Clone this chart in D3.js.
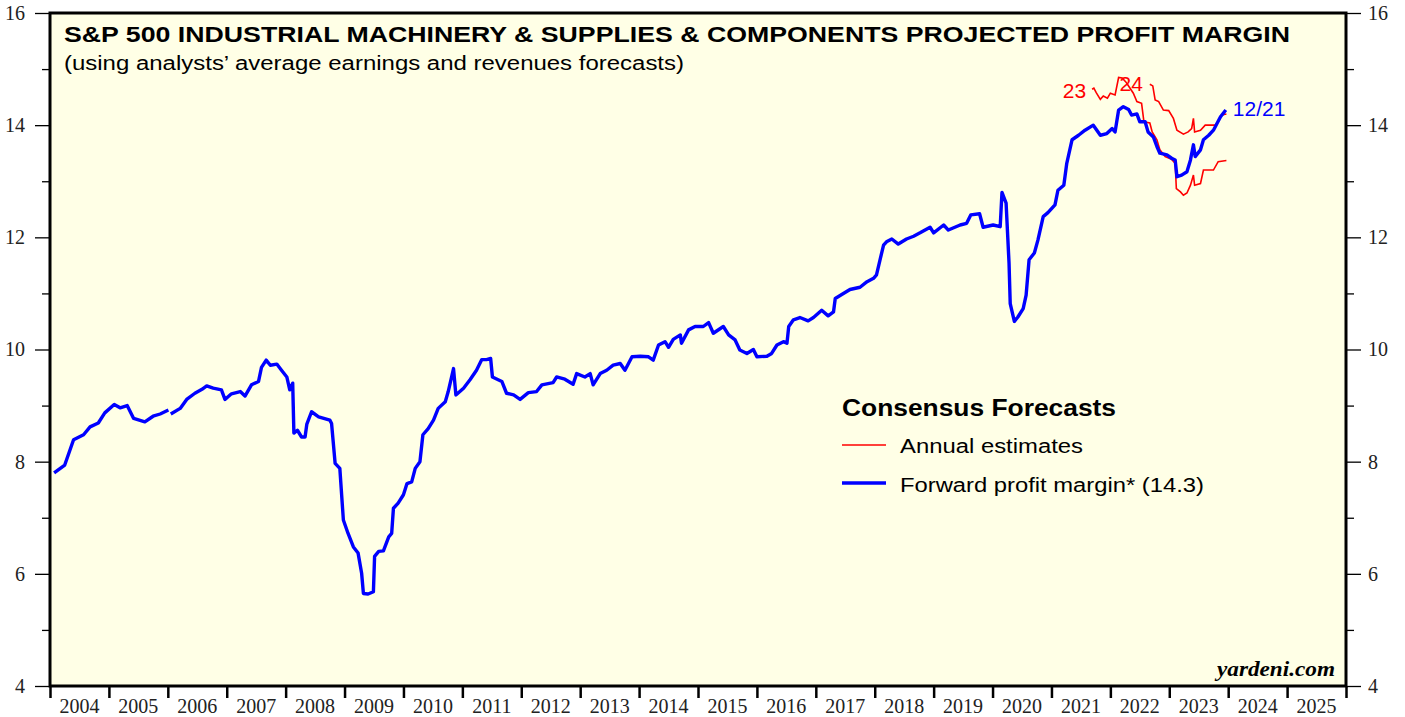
<!DOCTYPE html>
<html>
<head>
<meta charset="utf-8">
<script src="https://cdn.jsdelivr.net/npm/d3@7"></script>
<style>
  body { margin: 0; background: #fff; }
  svg { display: block; }
  .axis path { display: none; }
  .axis line { stroke: #000; stroke-width: 1.3; }
  .xaxis line { stroke-width: 2.5; }
  .axis text { font-family: "Liberation Serif", "Times New Roman", serif; font-size: 20px; fill: #222; }
  .sans { font-family: "Liberation Sans", Arial, sans-serif; }
</style>
</head>
<body>
<div id="chart"></div>
<script>
// forward profit margin (weekly-ish), year as decimal
var fwdYears = [2004.07,2004.25,2004.40,2004.57,2004.68,2004.82,2004.93,2005.09,2005.19,2005.31,2005.42,2005.61,2005.75,2005.87,2006.01,
  2006.03,
  2006.05,2006.21,2006.32,2006.46,2006.58,2006.66,2006.77,2006.91,2006.97,2007.08,2007.23,2007.31,2007.42,2007.54,2007.59,2007.67,2007.74,2007.85,2007.93,
  2008.02,2008.07,2008.12,2008.14,2008.20,2008.27,2008.33,2008.36,2008.44,2008.56,2008.75,2008.78,2008.84,2008.92,2008.98,
  2009.06,2009.15,2009.23,2009.29,2009.32,2009.40,2009.49,2009.51,2009.58,2009.66,2009.75,2009.80,2009.83,2009.91,
  2010.00,2010.06,2010.14,2010.20,2010.28,2010.33,2010.42,2010.51,2010.59,2010.71,2010.76,2010.85,2010.89,
  2011.02,2011.13,2011.24,2011.33,2011.41,2011.48,2011.51,2011.67,2011.75,2011.87,2011.98,
  2012.12,2012.26,2012.35,2012.54,2012.60,2012.74,2012.88,2012.94,
  2013.08,2013.17,2013.22,2013.34,2013.45,2013.56,2013.68,2013.76,2013.88,
  2014.02,2014.16,2014.24,2014.33,2014.44,2014.50,2014.58,2014.70,2014.72,2014.84,2014.95,
  2015.09,2015.18,2015.26,2015.43,2015.52,2015.63,2015.71,2015.83,2015.94,
  2016.00,2016.17,2016.25,2016.34,2016.45,2016.51,2016.54,2016.62,2016.73,2016.87,2016.96,
  2017.10,2017.21,2017.30,2017.33,2017.44,2017.58,2017.75,2017.87,2017.98,
  2018.03,2018.09,2018.15,2018.20,2018.29,2018.40,2018.54,2018.66,2018.77,2018.94,
  2019.00,2019.17,2019.25,2019.45,2019.56,2019.63,2019.78,2019.84,
  2020.01,2020.13,2020.16,2020.23,2020.28,2020.30,2020.37,2020.43,2020.52,2020.57,2020.62,2020.71,2020.77,2020.86,2020.94,
  2021.06,2021.11,2021.21,2021.26,2021.35,2021.46,2021.57,2021.71,2021.83,2021.94,
  2022.03,2022.08,2022.14,2022.22,2022.31,2022.36,2022.45,2022.50,2022.59,2022.64,2022.73,2022.79,2022.84,2022.96,
  2023.04,2023.10,2023.13,2023.21,2023.30,2023.36,2023.41,2023.44,2023.53,2023.58,2023.67,2023.75,2023.81,2023.87,2023.96];
var fwdValues = [7.80,7.94,8.39,8.48,8.62,8.69,8.87,9.02,8.96,9.00,8.77,8.71,8.81,8.85,8.92,
  null,
  8.85,8.95,9.11,9.22,9.29,9.35,9.31,9.28,9.11,9.21,9.25,9.17,9.37,9.43,9.68,9.81,9.72,9.74,9.63,
  9.51,9.28,9.40,8.51,8.56,8.44,8.44,8.67,8.89,8.80,8.74,8.68,7.97,7.88,6.96,
  6.72,6.48,6.37,6.01,5.65,5.64,5.68,6.31,6.40,6.41,6.66,6.72,7.17,7.26,
  7.41,7.61,7.64,7.88,8.00,8.48,8.59,8.74,8.95,9.07,9.25,9.66,9.19,
  9.31,9.46,9.63,9.82,9.82,9.84,9.51,9.43,9.22,9.19,9.11,
  9.23,9.25,9.37,9.41,9.51,9.47,9.38,9.57,
  9.51,9.57,9.37,9.57,9.63,9.72,9.75,9.63,9.87,
  9.88,9.87,9.81,10.08,10.14,10.04,10.18,10.26,10.11,10.35,10.41,
  10.41,10.48,10.29,10.41,10.26,10.17,9.99,9.93,10.00,
  9.87,9.88,9.93,10.08,10.14,10.11,10.41,10.53,10.57,10.51,10.57,
  10.70,10.60,10.67,10.91,10.98,11.07,11.11,11.21,11.27,
  11.33,11.60,11.86,11.92,11.97,11.88,11.97,12.02,12.08,12.18,
  12.08,12.22,12.13,12.22,12.25,12.40,12.42,12.18,
  12.22,12.19,12.80,12.61,11.54,10.82,10.50,10.58,10.73,10.97,11.60,11.72,11.95,12.37,12.44,
  12.58,12.84,12.93,13.32,13.74,13.82,13.91,14.00,13.82,13.85,
  13.94,13.88,14.27,14.33,14.28,14.18,14.20,14.06,14.06,13.88,13.79,13.62,13.50,13.47,
  13.41,13.38,13.08,13.11,13.17,13.38,13.65,13.44,13.56,13.74,13.82,13.91,14.03,14.15,14.27];

// annual estimates
var est23Years = [2021.69,2021.72,2021.76,2021.83,2021.88,2021.95,2022.00,2022.08,2022.14,2022.20,2022.27,2022.39,2022.45,2022.53,2022.57,2022.67,2022.71,2022.79,2022.84,2022.93,
  2023.04,2023.10,2023.12,2023.19,2023.24,2023.30,2023.36,2023.41,2023.43,2023.53,2023.58,2023.75,2023.83,2023.97];
var est23Values = [14.64,14.66,14.58,14.46,14.52,14.48,14.57,14.54,14.85,14.84,14.76,14.57,14.42,14.39,14.06,14.04,13.88,13.74,13.56,13.44,
  13.39,13.32,12.87,12.81,12.75,12.79,12.93,13.11,12.93,12.96,13.20,13.20,13.35,13.37];
var est24Years = [2022.67,2022.72,2022.76,2022.82,2022.90,2022.99,2023.07,2023.13,2023.24,2023.32,2023.38,2023.41,2023.43,2023.53,2023.61,2023.78,2023.83,2023.89,2023.97];
var est24Values = [14.73,14.70,14.45,14.42,14.27,14.26,14.12,13.91,13.84,13.88,13.94,14.12,13.88,13.91,14.00,14.00,14.06,14.18,14.20];

var yearTicks = d3.range(2004, 2027);
var yearLabels = d3.range(2004, 2026);
var yMajor = [4, 6, 8, 10, 12, 14, 16];
var yMinor = [5, 7, 9, 11, 13, 15];

var margin = {top: 13, right: 59, bottom: 31, left: 50},
    width = 1405 - margin.left - margin.right,
    height = 717 - margin.top - margin.bottom;

var svg = d3.select("#chart")
  .append("svg")
  .attr("width", 1405)
  .attr("height", 717)
  .append("g")
  .attr("transform", "translate(" + margin.left + "," + margin.top + ")");

var x = d3.scaleLinear().domain([2004, 2026]).range([0, width]);
var y = d3.scaleLinear().domain([4, 16]).range([height, 0]);

// background
svg.append("rect")
  .attr("width", width).attr("height", height)
  .attr("fill", "#ffffe6");

// y axes, major + minor ticks
svg.append("g").attr("class", "axis")
  .call(d3.axisLeft(y).tickValues(yMajor).tickSize(15).tickPadding(10).tickFormat(d3.format("d")));
svg.append("g").attr("class", "axis")
  .call(d3.axisLeft(y).tickValues(yMinor).tickSize(8).tickFormat(""));
svg.append("g").attr("class", "axis")
  .attr("transform", "translate(" + width + ",0)")
  .call(d3.axisRight(y).tickValues(yMajor).tickSize(15).tickPadding(7).tickFormat(d3.format("d")));
svg.append("g").attr("class", "axis")
  .attr("transform", "translate(" + width + ",0)")
  .call(d3.axisRight(y).tickValues(yMinor).tickSize(8).tickFormat(""));

// x axis: ticks on year boundaries, labels mid-year
svg.append("g").attr("class", "axis xaxis")
  .attr("transform", "translate(0," + height + ")")
  .call(d3.axisBottom(x).tickValues(yearTicks).tickSize(12).tickFormat(""));
svg.append("g").attr("class", "axis")
  .selectAll("text")
  .data(yearLabels)
  .enter().append("text")
    .attr("x", function(d) { return x(d + 0.5); })
    .attr("y", height + 27)
    .attr("text-anchor", "middle")
    .text(function(d) { return d; });

var line = d3.line()
  .defined(function(d) { return d[1] != null; })
  .x(function(d) { return x(d[0]); })
  .y(function(d) { return y(d[1]); });

var fwd = d3.zip(fwdYears, fwdValues);
var e23 = d3.zip(est23Years, est23Values);
var e24 = d3.zip(est24Years, est24Values);

svg.append("path").datum(e23)
  .attr("d", line).attr("fill", "none")
  .attr("stroke", "#ff0000").attr("stroke-width", 1.6);
svg.append("path").datum(e24)
  .attr("d", line).attr("fill", "none")
  .attr("stroke", "#ff0000").attr("stroke-width", 1.6);
svg.append("path").datum(fwd)
  .attr("d", line).attr("fill", "none")
  .attr("stroke", "#0000ff").attr("stroke-width", 3.4)
  .attr("stroke-linejoin", "round");

// series labels
svg.append("text").attr("class", "sans")
  .attr("x", x(est23Years[0]) - 6).attr("y", y(est23Values[0]) + 9)
  .attr("text-anchor", "end")
  .style("font-size", "21px")
  .attr("fill", "#ff0000").text("23");
svg.append("text").attr("class", "sans")
  .attr("x", x(est24Years[0]) - 7).attr("y", y(est24Values[0]) + 7)
  .attr("text-anchor", "end")
  .style("font-size", "21px")
  .attr("fill", "#ff0000").text("24");
svg.append("text").attr("class", "sans")
  .attr("x", x(fwdYears[fwdYears.length - 1]) + 7).attr("y", y(fwdValues[fwdValues.length - 1]) + 6)
  .style("font-size", "21px")
  .attr("fill", "#0000ff").text("12/21");

// frame
svg.append("rect")
  .attr("width", width).attr("height", height)
  .attr("fill", "none").attr("stroke", "#000").attr("stroke-width", 3);

// titles
svg.append("text").attr("class", "sans")
  .attr("x", 14).attr("y", 29)
  .attr("textLength", 1226).attr("lengthAdjust", "spacingAndGlyphs")
  .style("font-size", "22.5px").style("font-weight", "bold")
  .text("S&P 500 INDUSTRIAL MACHINERY & SUPPLIES & COMPONENTS PROJECTED PROFIT MARGIN");
svg.append("text").attr("class", "sans")
  .attr("x", 14).attr("y", 57)
  .attr("textLength", 620).attr("lengthAdjust", "spacingAndGlyphs")
  .style("font-size", "20px")
  .text("(using analysts\u2019 average earnings and revenues forecasts)");

// legend
var lg = svg.append("g").attr("transform", "translate(792,0)");
lg.append("text").attr("class", "sans")
  .attr("x", 0).attr("y", 403)
  .attr("textLength", 274).attr("lengthAdjust", "spacingAndGlyphs")
  .style("font-size", "23px").style("font-weight", "bold")
  .text("Consensus Forecasts");
lg.append("line").attr("x1", 0).attr("x2", 44).attr("y1", 432).attr("y2", 432)
  .attr("stroke", "#ff0000").attr("stroke-width", 1.6);
lg.append("text").attr("class", "sans").attr("x", 58).attr("y", 440)
  .attr("textLength", 183).attr("lengthAdjust", "spacingAndGlyphs")
  .style("font-size", "20px")
  .text("Annual estimates");
lg.append("line").attr("x1", 0).attr("x2", 44).attr("y1", 470).attr("y2", 470)
  .attr("stroke", "#0000ff").attr("stroke-width", 3.4);
lg.append("text").attr("class", "sans").attr("x", 58).attr("y", 479)
  .attr("textLength", 304).attr("lengthAdjust", "spacingAndGlyphs")
  .style("font-size", "20px")
  .text("Forward profit margin* (14.3)");

// source
svg.append("text")
  .attr("x", width - 11).attr("y", height - 10)
  .attr("text-anchor", "end")
  .attr("textLength", 118).attr("lengthAdjust", "spacingAndGlyphs")
  .style("font-family", "Liberation Serif, Times New Roman, serif").style("font-size", "21px")
  .style("font-weight", "bold").style("font-style", "italic")
  .text("yardeni.com");
</script>
</body>
</html>
